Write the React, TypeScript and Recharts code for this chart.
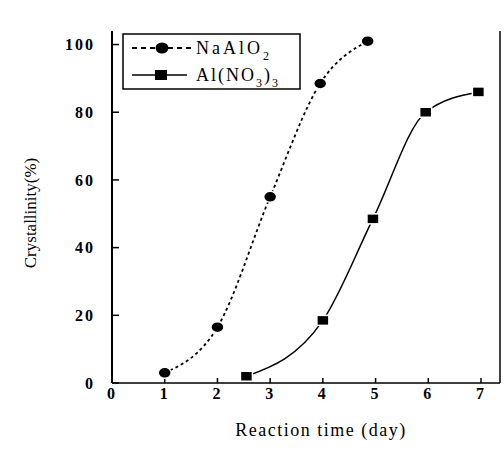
import React from "react";
import { LineChart, Line, XAxis, YAxis, Legend, ReferenceLine } from "recharts";

// NaAlO2 route
const naDays = [1, 2, 3, 3.95, 4.85];
const naCryst = [3, 16.5, 55, 88.5, 101];
// Al(NO3)3 route
const alDays = [2.55, 4, 4.95, 5.95, 6.95];
const alCryst = [2, 18.5, 48.5, 80, 86];

const xTicks = [0, 1, 2, 3, 4, 5, 6, 7];
const yTicks = [0, 20, 40, 60, 80, 100];
const xMax = 7.36;
const yMax = 104;

const naData = naDays.map((day, i) => ({ day, value: naCryst[i] }));
const alData = alDays.map((day, i) => ({ day, value: alCryst[i] }));

const serif = "'Liberation Serif', 'Times New Roman', serif";
const tickStyle = { fontFamily: serif, fontSize: 16, fontWeight: 700, fill: "#000", letterSpacing: 2 };

const CircleDot = (p: any) => (
  <ellipse key={`c${p.index}`} cx={p.cx} cy={p.cy} rx={6.5} ry={5.5} fill="#000" stroke="#fff" strokeWidth={1.5} />
);
const SquareDot = (p: any) => (
  <rect key={`s${p.index}`} x={p.cx - 6} y={p.cy - 5} width={12} height={10} fill="#000" stroke="#fff" strokeWidth={1.5} />
);

const LegendBox = () => (
  <svg width={180} height={58} style={{ display: "block" }}>
    <rect x={1} y={1} width={177} height={55} fill="#fff" stroke="#000" strokeWidth={1.5} />
    <line x1={10} y1={15} x2={70} y2={15} stroke="#000" strokeWidth={1.8} strokeDasharray="5 4" />
    <ellipse cx={40} cy={15} rx={6.5} ry={5.5} fill="#000" />
    <text x={74} y={21} fontFamily={serif} fontSize={18} letterSpacing={3} fill="#000">
      NaAlO<tspan fontSize={12} dy={6}>2</tspan>
    </text>
    <line x1={10} y1={42} x2={65} y2={42} stroke="#000" strokeWidth={1.5} />
    <rect x={33} y={37} width={12} height={10} fill="#000" />
    <text x={74} y={48} fontFamily={serif} fontSize={18} letterSpacing={2} fill="#000">
      Al(NO<tspan fontSize={12} dy={6}>3</tspan>
      <tspan dy={-6}>)</tspan>
      <tspan fontSize={12} dy={6}>3</tspan>
    </text>
  </svg>
);

export default function App() {
  return (
    <div style={{ position: "absolute", left: 0, top: 0, background: "#fff" }}>
      <LineChart width={504} height={452} margin={{ top: 31, right: 4, left: 0, bottom: 0 }}>
        <XAxis
          type="number"
          dataKey="day"
          domain={[0, xMax]}
          ticks={xTicks}
          allowDataOverflow
          height={69}
          axisLine={{ stroke: "#000", strokeWidth: 1.6 }}
          tickLine={{ stroke: "#000", strokeWidth: 1.5 }}
          tickSize={-5}
          tickMargin={10}
          tick={tickStyle}
          label={{
            content: (props: any) => {
              const vb = props.viewBox;
              return (
                <text
                  x={vb.x + vb.width / 2 + 15}
                  y={vb.y + 53}
                  textAnchor="middle"
                  fontFamily={serif}
                  fontSize={18}
                  letterSpacing={1.5}
                  fill="#000"
                >
                  Reaction time (day)
                </text>
              );
            },
          }}
        />
        <YAxis
          type="number"
          dataKey="value"
          domain={[0, yMax]}
          ticks={yTicks}
          allowDataOverflow
          width={112}
          axisLine={{ stroke: "#000", strokeWidth: 2 }}
          tickLine={{ stroke: "#000", strokeWidth: 1.5 }}
          tickSize={-7}
          tickMargin={24}
          tick={tickStyle}
          label={{
            content: (props: any) => {
              const vb = props.viewBox;
              const cx = 30;
              const cy = vb.y + vb.height / 2 + 6;
              return (
                <text
                  x={cx}
                  y={cy}
                  textAnchor="middle"
                  dominantBaseline="central"
                  transform={`rotate(-90 ${cx} ${cy})`}
                  fontFamily={serif}
                  fontSize={17}
                  fill="#000"
                >
                  Crystallinity(%)
                </text>
              );
            },
          }}
        />
        <ReferenceLine x={xMax} stroke="#000" strokeWidth={1.5} ifOverflow="visible" />
        <Legend
          layout="vertical"
          align="center"
          verticalAlign="middle"
          content={() => <LegendBox />}
          wrapperStyle={{ position: "absolute", left: 122, top: 33, width: 180, height: 58 }}
        />
        <Line
          data={naData}
          dataKey="value"
          type="monotone"
          stroke="#000"
          strokeWidth={1.8}
          strokeDasharray="3 3"
          dot={CircleDot}
          activeDot={false}
          isAnimationActive={false}
        />
        <Line
          data={alData}
          dataKey="value"
          type="monotone"
          stroke="#000"
          strokeWidth={1.5}
          dot={SquareDot}
          activeDot={false}
          isAnimationActive={false}
        />
      </LineChart>
    </div>
  );
}
